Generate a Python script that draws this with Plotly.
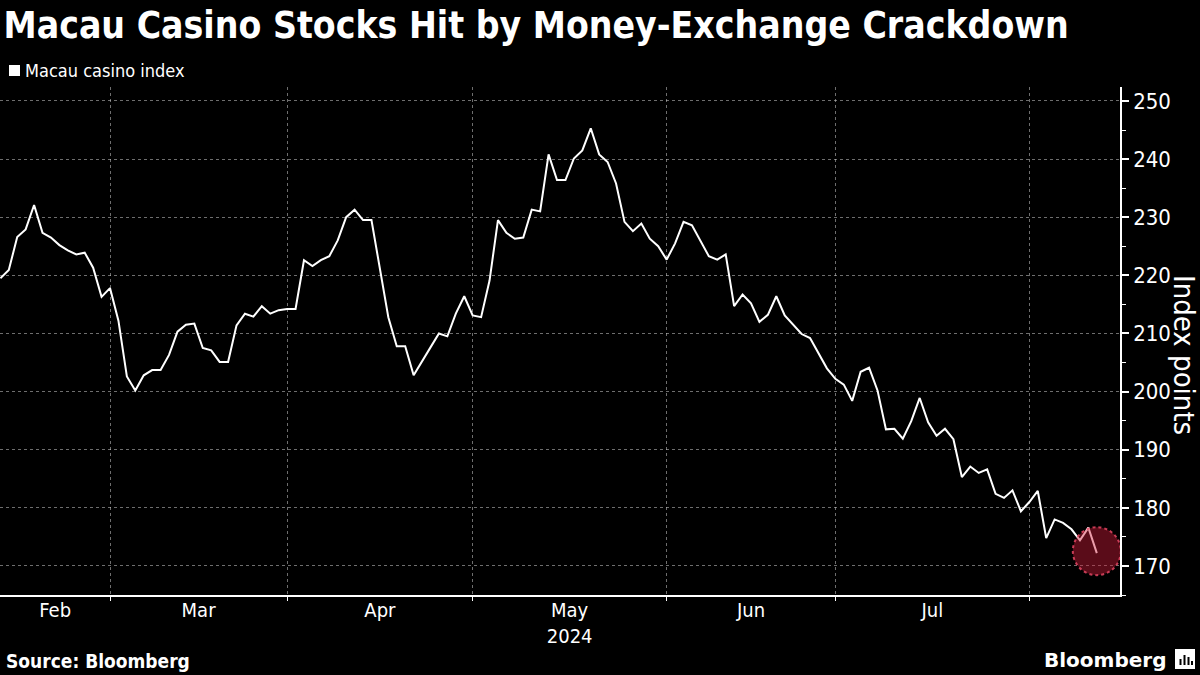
import pandas as pd
import plotly.graph_objects as go

# ---- data ----
dates = pd.bdate_range("2024-02-13", "2024-08-13")  # weekdays, 131 points
index_values = [
    219.5, 220.9, 226.6, 227.9, 232.1, 227.3, 226.5, 225.2, 224.3, 223.6,
    223.9, 221.3, 216.3, 217.8, 212.2, 202.6, 200.2, 202.8, 203.7, 203.7,
    206.3, 210.3, 211.5, 211.7, 207.5, 207.1, 205.1, 205.1, 211.4, 213.4,
    212.9, 214.7, 213.4, 214.0, 214.2, 214.2, 222.6, 221.6, 222.6, 223.3,
    226.0, 230.0, 231.3, 229.5, 229.5, 221.2, 212.8, 207.8, 207.8, 202.8,
    205.3, 207.6, 210.0, 209.5, 213.4, 216.4, 213.1, 212.8, 219.1, 229.5,
    227.3, 226.3, 226.5, 231.3, 231.0, 240.8, 236.4, 236.4, 240.1, 241.5,
    245.3, 240.8, 239.5, 235.8, 229.2, 227.6, 228.9, 226.3, 225.0, 222.7,
    225.5, 229.2, 228.6, 226.0, 223.3, 222.7, 223.6, 214.7, 216.7, 215.2,
    212.0, 213.2, 216.4, 213.1, 211.5, 209.9, 209.2, 206.6, 204.0, 202.2,
    201.2, 198.4, 203.4, 204.1, 200.2, 193.5, 193.6, 191.9, 194.9, 198.9,
    194.7, 192.4, 193.6, 191.8, 185.3, 187.1, 186.0, 186.6, 182.4, 181.7,
    183.0, 179.4, 181.0, 182.9, 174.8, 178.0, 177.4, 176.3, 174.4, 176.6,
    172.2,
]
series_name = "Macau casino index"

month_starts = ["2024-03-01", "2024-04-01", "2024-05-01", "2024-06-03",
                "2024-07-01", "2024-08-01"]
month_label_pos = ["2024-02-21 12:00", "2024-03-15 12:00", "2024-04-16",
                   "2024-05-16 12:00", "2024-06-17", "2024-07-16 12:00"]
month_labels = ["Feb", "Mar", "Apr", "May<br>2024", "Jun", "Jul"]
y_ticks = [170, 180, 190, 200, 210, 220, 230, 240, 250]

title_text = "Macau Casino Stocks Hit by Money-Exchange Crackdown"
FONT = "DejaVu Sans Condensed"

# ---- layout geometry (pixels) ----
W, H = 1200, 675
ML, MR, MT, MB = 0, 80, 87, 80
PW, PH = W - ML - MR, H - MT - MB


def px_x(px):
    return (px - ML) / PW


def px_y(py):
    return (H - MB - py) / PH


fig = go.Figure()
fig.add_trace(go.Scatter(
    x=dates, y=index_values, mode="lines", name=series_name,
    line=dict(color="white", width=2), showlegend=False,
))

grid_col = "rgba(200,200,200,0.55)"

fig.update_layout(
    width=W, height=H,
    margin=dict(l=ML, r=MR, t=MT, b=MB),
    paper_bgcolor="black", plot_bgcolor="black",
    font=dict(family=FONT, color="white", size=20),
    title=dict(text=title_text, x=0.003, xanchor="left", xref="container",
               y=1 - 25 / H, yanchor="middle", yref="container",
               font=dict(family=FONT, size=37, color="white", weight="bold")),
    xaxis=dict(
        type="date",
        range=["2024-02-12 23:00", "2024-08-15 18:00"],
        rangebreaks=[dict(bounds=["sat", "mon"])],
        tickmode="array", tickvals=month_label_pos, ticktext=month_labels,
        ticks="", showgrid=False, zeroline=False,
        showline=True, linecolor="white", linewidth=1.5,
        tickfont=dict(size=20, color="white", family=FONT),
        ticklabelstandoff=-4,
        minor=dict(tickmode="array", tickvals=month_starts, ticks="outside",
                   ticklen=4, tickcolor="white", tickwidth=1,
                   showgrid=True, gridcolor=grid_col, griddash="dot",
                   gridwidth=1),
        fixedrange=True,
    ),
    yaxis=dict(
        side="right", range=[165, 252.4],
        tickmode="array", tickvals=y_ticks,
        ticks="outside", ticklen=7, tickwidth=2, tickcolor="white",
        showgrid=True, gridcolor=grid_col, griddash="dot", gridwidth=1,
        zeroline=False, showline=True, linecolor="white", linewidth=1.5,
        tickfont=dict(size=22, color="white", family=FONT),
        minor=dict(tickmode="linear", tick0=165, dtick=10, ticks="outside",
                   ticklen=4, tickcolor="white", tickwidth=1, showgrid=False),
        fixedrange=True,
    ),
)

shapes = []
# highlight circle around last value
shapes.append(dict(
    type="circle", xref="x", yref="y",
    xsizemode="pixel", ysizemode="pixel",
    xanchor=dates[-1], yanchor=index_values[-1],
    x0=-24, x1=24, y0=-22, y1=26,
    fillcolor="rgba(209,28,58,0.43)",
    line=dict(color="rgba(230,70,100,0.85)", width=2, dash="dot"),
    layer="above",
))
# legend square
shapes.append(dict(type="rect", xref="paper", yref="paper",
                   x0=px_x(9), x1=px_x(20), y0=px_y(76), y1=px_y(65),
                   fillcolor="white", line=dict(width=0)))
# Bloomberg icon
shapes.append(dict(type="rect", xref="paper", yref="paper",
                   x0=px_x(1175), x1=px_x(1195), y0=px_y(669), y1=px_y(649),
                   fillcolor="white", line=dict(width=0)))
for bx0, btop in [(1179.5, 659), (1183.5, 655), (1187.5, 657), (1191, 661)]:
    shapes.append(dict(type="rect", xref="paper", yref="paper",
                       x0=px_x(bx0), x1=px_x(bx0 + 2), y0=px_y(665), y1=px_y(btop),
                       fillcolor="black", line=dict(width=0)))
fig.update_layout(shapes=shapes)

annotations = [
    dict(text=series_name, xref="paper", yref="paper", x=px_x(23), y=px_y(70),
         xanchor="left", yanchor="middle", showarrow=False,
         font=dict(size=18, color="white", family=FONT)),
    dict(text="Index points", xref="paper", yref="paper", x=px_x(1184), y=px_y(355),
         xanchor="center", yanchor="middle", textangle=90, showarrow=False,
         font=dict(size=29, color="white", family=FONT)),
    dict(text="Source: Bloomberg", xref="paper", yref="paper", x=px_x(4), y=px_y(661),
         xanchor="left", yanchor="middle", showarrow=False,
         font=dict(size=19, color="white", family=FONT, weight="bold")),
    dict(text="Bloomberg", xref="paper", yref="paper", x=px_x(1168), y=px_y(660),
         xanchor="right", yanchor="middle", showarrow=False,
         font=dict(size=20, color="white", family="DejaVu Sans", weight="bold")),
]
fig.update_layout(annotations=annotations)

fig.write_html("out.html", config={"displayModeBar": False})
